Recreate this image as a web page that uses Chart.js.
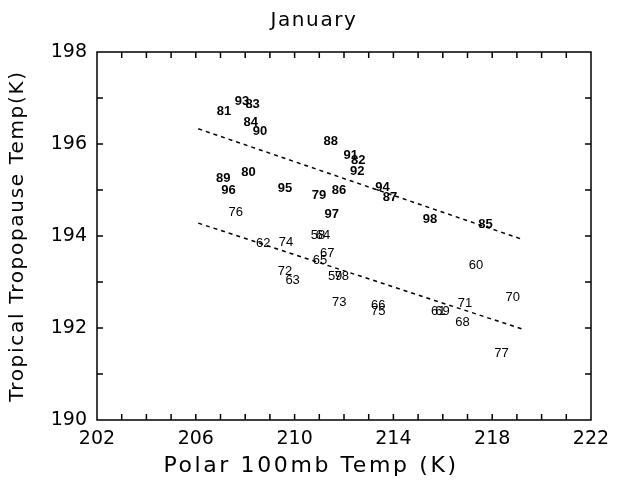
<!DOCTYPE html>
<html>
<head>
<meta charset="utf-8">
<script src="https://cdn.jsdelivr.net/npm/chart.js@4/dist/chart.umd.min.js"></script>
<style>
  html, body { margin: 0; padding: 0; background: #fff; }
  #wrap { width: 628px; height: 484px; }
</style>
</head>
<body>
<div id="wrap"><canvas id="c" width="628" height="484"></canvas></div>
<script>
// years 1958-1978 (plain labels)
const earlyYears = ['58', '59', '60', '61', '62', '63', '64', '65', '66', '67', '68',
  '69', '70', '71', '72', '73', '74', '75', '76', '77', '78'];
const earlyX = [210.95, 211.64, 217.34, 215.82, 208.73, 209.92, 211.15, 211.03, 213.39, 211.32, 216.80,
  215.99, 218.83, 216.90, 209.61, 211.81, 209.65, 213.39, 207.62, 218.38, 211.91];
const earlyY = [194.01, 193.13, 193.37, 192.35, 193.84, 193.04, 194.01, 193.46, 192.50, 193.62, 192.12,
  192.35, 192.67, 192.54, 193.22, 192.55, 193.86, 192.37, 194.51, 191.45, 193.13];

// years 1979-1998 (bold labels)
const lateYears = ['79', '80', '81', '82', '83', '84', '85', '86', '87', '88',
  '89', '90', '91', '92', '93', '94', '95', '96', '97', '98'];
const lateX = [210.99, 208.13, 207.14, 212.58, 208.30, 208.22, 217.73, 211.80, 213.86, 211.46,
  207.11, 208.60, 212.27, 212.54, 207.87, 213.56, 209.61, 207.32, 211.50, 215.48];
const lateY = [194.89, 195.38, 196.70, 195.65, 196.85, 196.46, 194.26, 195.00, 194.84, 196.05,
  195.25, 196.27, 195.76, 195.40, 196.93, 195.05, 195.04, 195.00, 194.46, 194.35];

// regression lines (end points)
const fitX = [206.1, 219.2];
const upperFitY = [196.33, 193.93];
const lowerFitY = [194.28, 191.98];

const xTickLabels = [202, 206, 210, 214, 218, 222];
const yTickLabels = [190, 192, 194, 196, 198];

const FONT = '"DejaVu Sans", sans-serif';

const toPoints = (xs, ys) => xs.map((x, i) => ({ x, y: ys[i] }));

// wider spacing for the titles (the original uses a wide stroke font)
const wrapDraw = (obj, fn, gap, dx = 0) => {
  if (!obj || obj._spaced) return;
  const orig = obj[fn].bind(obj);
  obj[fn] = (...args) => {
    const ctx = obj.ctx;
    ctx.save();
    ctx.translate(dx, 0);
    ctx.letterSpacing = gap;
    orig(...args);
    ctx.letterSpacing = '0px';
    ctx.restore();
  };
  obj._spaced = true;
};
const titleSpacing = {
  id: 'titleSpacing',
  beforeDraw(chart) {
    // x title sits centred on the page, not on the plot
    wrapDraw(chart.scales.x, 'drawTitle', '2.6px', -33);
    wrapDraw(chart.scales.y, 'drawTitle', '1.7px');
    wrapDraw(chart.titleBlock, 'draw', '1.6px');
  },
};

// draws the year numbers at their data positions
const yearLabels = {
  id: 'yearLabels',
  afterDatasetsDraw(chart) {
    const { ctx, scales } = chart;
    ctx.save();
    ctx.fillStyle = '#000';
    ctx.textAlign = 'center';
    ctx.textBaseline = 'middle';
    ctx.font = '13px "Liberation Sans", Arial, sans-serif';
    earlyYears.forEach((t, i) => {
      ctx.fillText(t, scales.x.getPixelForValue(earlyX[i]), scales.y.getPixelForValue(earlyY[i]));
    });
    ctx.font = 'bold 13px "Liberation Sans", Arial, sans-serif';
    lateYears.forEach((t, i) => {
      ctx.fillText(t, scales.x.getPixelForValue(lateX[i]), scales.y.getPixelForValue(lateY[i]));
    });
    ctx.restore();
  },
};

// box round the plot with inward ticks
const frame = {
  id: 'frame',
  afterDraw(chart) {
    const { ctx, chartArea: a, scales } = chart;
    const len = 6;
    ctx.save();
    ctx.strokeStyle = '#000';
    ctx.lineWidth = 1.5;
    ctx.strokeRect(a.left, a.top, a.right - a.left, a.bottom - a.top);
    ctx.beginPath();
    for (let v = 203; v < 222; v++) {
      const px = scales.x.getPixelForValue(v);
      ctx.moveTo(px, a.bottom); ctx.lineTo(px, a.bottom - len);
      ctx.moveTo(px, a.top); ctx.lineTo(px, a.top + len);
    }
    for (let v = 191; v < 198; v++) {
      const py = scales.y.getPixelForValue(v);
      ctx.moveTo(a.left, py); ctx.lineTo(a.left + len, py);
      ctx.moveTo(a.right, py); ctx.lineTo(a.right - len, py);
    }
    ctx.stroke();
    ctx.restore();
  },
};

const dashed = (ys) => ({
  type: 'line',
  data: toPoints(fitX, ys),
  borderColor: '#000',
  borderWidth: 1.5,
  borderDash: [4, 4],
  pointRadius: 0,
  fill: false,
});

new Chart(document.getElementById('c'), {
  type: 'scatter',
  data: {
    datasets: [
      { data: toPoints(earlyX, earlyY), pointRadius: 0, showLine: false },
      { data: toPoints(lateX, lateY), pointRadius: 0, showLine: false },
      dashed(upperFitY),
      dashed(lowerFitY),
    ],
  },
  options: {
    responsive: false,
    animation: false,
    layout: { padding: 0 },
    plugins: {
      legend: { display: false },
      tooltip: { enabled: false },
      title: {
        display: true,
        text: 'January',
        color: '#000',
        font: { family: FONT, size: 20, weight: 'normal' },
        padding: { top: 9, bottom: 19 },
      },
    },
    scales: {
      x: {
        type: 'linear',
        min: 202,
        max: 222,
        grid: { display: false, drawTicks: false },
        border: { display: false },
        afterBuildTicks: (s) => { s.ticks = xTickLabels.map((v) => ({ value: v })); },
        afterFit: (s) => { s.height = 64; },
        ticks: {
          color: '#000',
          padding: 8,
          maxRotation: 0,
          autoSkip: false,
          font: { family: FONT, size: 19 },
        },
        title: {
          display: true,
          text: 'Polar 100mb Temp (K)',
          color: '#000',
          font: { family: FONT, size: 22 },
          padding: { top: 0, bottom: 5 },
        },
      },
      y: {
        type: 'linear',
        min: 190,
        max: 198,
        grid: { display: false, drawTicks: false },
        border: { display: false },
        afterBuildTicks: (s) => { s.ticks = yTickLabels.map((v) => ({ value: v })); },
        afterFit: (s) => { s.width = 97; },
        ticks: {
          color: '#000',
          padding: 10,
          autoSkip: false,
          font: { family: FONT, size: 19 },
        },
        title: {
          display: true,
          text: 'Tropical Tropopause Temp(K)',
          color: '#000',
          font: { family: FONT, size: 20 },
          padding: { top: 6, bottom: 0 },
        },
      },
      // empty right axis, only keeps the right margin
      yRight: {
        type: 'linear',
        position: 'right',
        min: 190,
        max: 198,
        grid: { display: false, drawTicks: false },
        border: { display: false },
        ticks: { display: false },
        afterFit: (s) => { s.width = 37; },
      },
    },
  },
  plugins: [titleSpacing, yearLabels, frame],
});
</script>
</body>
</html>
